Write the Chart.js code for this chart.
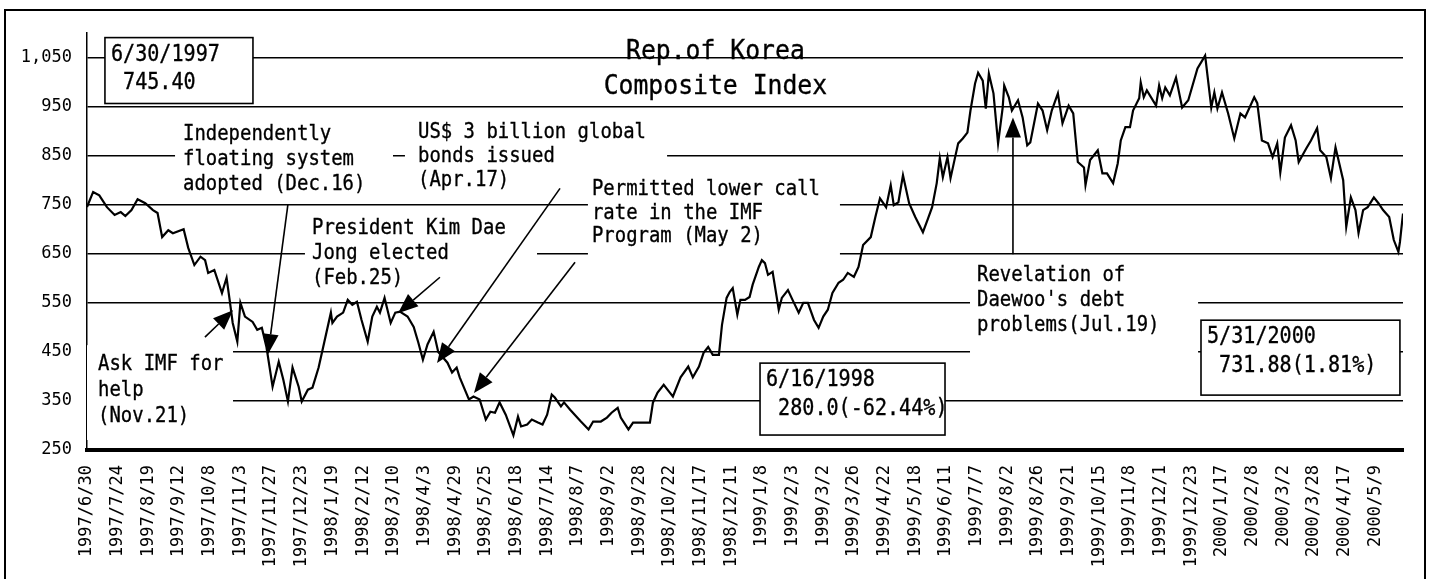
<!DOCTYPE html>
<html><head><meta charset="utf-8">
<script src="https://cdn.jsdelivr.net/npm/chart.js@4"></script>
<style>html,body{margin:0;padding:0;background:#fff;}</style>
</head><body>
<canvas id="c" width="1431" height="579"></canvas>
<script>
// ---- data ----
const tickLabels = ['1997/6/30','1997/7/24','1997/8/19','1997/9/12','1997/10/8','1997/11/3','1997/11/27','1997/12/23',
 '1998/1/19','1998/2/12','1998/3/10','1998/4/3','1998/4/29','1998/5/25','1998/6/18','1998/7/14','1998/8/7','1998/9/2',
 '1998/9/28','1998/10/22','1998/11/17','1998/12/11','1999/1/8','1999/2/3','1999/3/2','1999/3/26','1999/4/22','1999/5/18',
 '1999/6/11','1999/7/7','1999/8/2','1999/8/26','1999/9/21','1999/10/15','1999/11/8','1999/12/1','1999/12/23','2000/1/17',
 '2000/2/8','2000/3/2','2000/3/28','2000/4/17','2000/5/9'];
const daysPerLabel = 20;            // labels are 20 trading days apart
const lastTradingDay = 858;         // 2000/5/31
const yTickValues = [250,350,450,550,650,750,850,950,1050];
const yTickLabels = ['250','350','450','550','650','750','850','950','1,050'];

const tradingDay = [0,4,8,13,18,22,25,29,33,38,43,46,49,53,56,63,66,70,74,77,79,83,88,91,93,95,98,100,103,108,111,114,117,121,125,128,131,134,138,140,144,147,151,154,159,160,163,167,170,173,176,179,183,186,189,191,194,198,201,204,209,213,216,219,222,226,229,235,238,241,243,249,252,256,260,263,266,269,273,278,281,283,287,290,294,297,300,303,305,309,311,315,322,327,330,335,339,342,346,348,353,356,363,367,369,372,376,380,382,387,392,395,399,402,405,408,412,414,417,419,421,424,426,429,432,434,438,440,442,444,447,451,453,457,460,464,467,470,474,477,480,483,486,490,493,496,500,503,506,511,514,517,521,524,526,529,532,536,540,545,548,551,554,556,558,561,563,566,568,571,574,576,579,581,584,586,588,591,594,597,598,601,603,607,610,613,615,620,623,626,629,633,636,640,643,646,650,651,654,659,662,665,669,672,674,677,680,682,686,687,689,691,697,699,701,703,706,710,714,718,724,729,733,735,737,740,744,748,752,755,761,763,766,770,773,776,778,781,785,788,790,795,798,802,804,808,811,814,819,821,824,827,829,832,835,839,842,845,849,852,855,856,858];
const kospi = [745.4,776,769,745,729,735,727,739,761,753,739,733,684,698,692,700,662,627,644,637,611,617,570,601,556,509,471,550,522,511,495,499,460,379,430,393,349,418,379,349,373,377,418,460,530,509,522,530,556,546,552,515,471,522,542,530,560,509,530,532,522,501,469,434,465,491,450,428,408,418,398,353,359,353,312,328,326,347,322,280,318,298,302,312,306,302,322,363,357,339,347,332,308,292,308,308,316,326,336,316,292,306,306,306,347,367,383,367,359,398,420,398,420,448,460,444,444,505,560,572,580,526,556,556,562,587,623,637,631,607,613,536,560,576,556,530,550,550,515,499,522,536,570,591,597,611,603,623,668,684,725,763,745,790,749,755,810,753,725,694,719,745,794,845,806,847,804,847,875,885,897,942,997,1019,1003,946,1017,977,875,948,993,969,942,963,928,871,877,956,942,902,942,977,916,952,936,837,826,790,841,861,814,814,794,834,881,908,908,942,967,999,969,983,952,993,967,989,973,1009,948,963,1028,1054,948,979,946,979,936,885,936,928,969,957,881,875,847,875,816,887,912,881,837,865,881,906,861,847,804,867,800,705,765,739,692,739,745,765,753,739,725,678,654,674,731.88];

// ---- annotations (data coordinates: x = trading day, y = index value) ----
const FONT = "'DejaVu Sans Mono', monospace";
const notes = [
  {lines:['6/30/1997',' 745.40'], x:15.6, y:1043.8, lh:28, size:23, adv:12.1, box:[11.7,1090.6,108.2,956.3], border:true},
  {lines:['6/16/1998',' 280.0(-62.44%)'], x:442.7, y:380.3, lh:29, size:23, adv:12.1, box:[438.8,427.1,559.4,280.5], border:true},
  {lines:['5/31/2000',' 731.88(1.81%)'], x:730.2, y:467.8, lh:29, size:23, adv:12.1, box:[726.3,514.6,856.0,361.9], border:true},
  {lines:['Independently','floating system','adopted (Dec.16)'], x:62.6, y:881, lh:25, size:22, adv:11.4, box:[57.4,931.9,199.5,767]},
  {lines:['US$ 3 billion global','bonds issued','(Apr.17)'], x:215.8, y:885, lh:24, size:22, adv:11.4, box:[207.3,931.9,378.2,767]},
  {lines:['President Kim Dae','Jong elected','(Feb.25)'], x:146.7, y:689.6, lh:25, size:22, adv:11.4, box:[142.1,730.4,293.4,571.6]},
  {lines:['Permitted lower call','rate in the IMF','Program (May 2)'], x:329.2, y:769, lh:23.5, size:22, adv:11.4, box:[326.6,815.8,490.9,632.7]},
  {lines:['Revelation of',"Daewoo's debt",'problems(Jul.19)'], x:580.3, y:594, lh:25, size:22, adv:11.4, box:[575.7,630.6,724.4,441.3]},
  {lines:['Ask IMF for','help','(Nov.21)'], x:7.2, y:412.8, lh:26, size:22, adv:11.4, box:[0,463.7,95.2,270.4]},
];
const titleLines = {lines:['Rep.of Korea','Composite Index'], x:409.7, y:1047.9, lh:35, size:26, adv:14.9};
const arrows = [
  {from:[76.9,480.0], to:[95.2,535.0]},
  {from:[131.0,750.7], to:[118.0,445.4]},
  {from:[230.1,602.1], to:[202.8,528.9]},
  {from:[308.4,783.3], to:[228.2,427.1]},
  {from:[318.2,632.7], to:[252.3,366.0]},
  {from:[603.7,648.9], to:[603.7,927.8]},
];

function drawMono(ctx, text, x, y, size, adv, center) {
  ctx.save();
  ctx.font = size + 'px ' + FONT;
  const w = ctx.measureText(text).width || 1;
  const target = adv * text.length;
  const x0 = center ? x - target / 2 : x;
  ctx.translate(x0, y);
  ctx.scale(target / w, 1);
  ctx.textAlign = 'left';
  ctx.textBaseline = 'alphabetic';
  ctx.fillStyle = '#000';
  ctx.strokeStyle = '#000';
  ctx.lineWidth = 0.35;
  ctx.fillText(text, 0, 0);
  ctx.strokeText(text, 0, 0);
  ctx.restore();
}

const notesPlugin = {
  id: 'notes',
  beforeDatasetsDraw(chart) {
    const {ctx, scales:{x, y}} = chart;
    ctx.save();
    notes.forEach(n => {
      const x1 = x.getPixelForValue(n.box[0]), y1 = y.getPixelForValue(n.box[1]);
      const x2 = x.getPixelForValue(n.box[2]), y2 = y.getPixelForValue(n.box[3]);
      ctx.fillStyle = '#fff';
      ctx.fillRect(x1, y1, x2 - x1, y2 - y1);
      if (n.border) { ctx.lineWidth = 1.6; ctx.strokeStyle = '#000'; ctx.strokeRect(x1, y1, x2 - x1, y2 - y1); }
      const tx = x.getPixelForValue(n.x), ty = y.getPixelForValue(n.y);
      n.lines.forEach((t, i) => drawMono(ctx, t, tx, ty + i * n.lh, n.size, n.adv, false));
    });
    const cx = x.getPixelForValue(titleLines.x), cy = y.getPixelForValue(titleLines.y);
    titleLines.lines.forEach((t, i) => drawMono(ctx, t, cx, cy + i * titleLines.lh, titleLines.size, titleLines.adv, true));
    ctx.restore();
  },
  afterDatasetsDraw(chart) {
    const {ctx, scales:{x, y}} = chart;
    ctx.save();
    ctx.strokeStyle = '#000'; ctx.fillStyle = '#000';
    arrows.forEach(a => {
      const x1 = x.getPixelForValue(a.from[0]), y1 = y.getPixelForValue(a.from[1]);
      const x2 = x.getPixelForValue(a.to[0]), y2 = y.getPixelForValue(a.to[1]);
      const ang = Math.atan2(y2 - y1, x2 - x1), L = 20, W = 8;
      const bx = x2 - L * Math.cos(ang), by = y2 - L * Math.sin(ang);
      ctx.lineWidth = 1.6;
      ctx.beginPath(); ctx.moveTo(x1, y1); ctx.lineTo(bx, by); ctx.stroke();
      ctx.beginPath(); ctx.moveTo(x2, y2);
      ctx.lineTo(bx - W * Math.sin(ang), by + W * Math.cos(ang));
      ctx.lineTo(bx + W * Math.sin(ang), by - W * Math.cos(ang));
      ctx.closePath(); ctx.fill();
    });
    ctx.restore();
  },
  afterDraw(chart) {
    const ctx = chart.ctx;
    ctx.save();
    ctx.lineWidth = 2; ctx.strokeStyle = '#000';
    ctx.strokeRect(5, 10, 1420, 600);
    ctx.restore();
  }
};

new Chart(document.getElementById('c'), {
  type: 'line',
  data: {
    datasets: [{
      data: tradingDay.map((d, i) => ({x: d, y: kospi[i]})),
      borderColor: '#000', borderWidth: 2.2, pointRadius: 0, tension: 0, fill: false
    }]
  },
  options: {
    responsive: false, animation: false,
    layout: {padding: {top: 33, right: 28, left: 0, bottom: 0}},
    plugins: {legend: {display: false}, tooltip: {enabled: false}},
    scales: {
      x: {
        type: 'linear', min: 0, max: lastTradingDay,
        afterBuildTicks: s => { s.ticks = tickLabels.map((_, i) => ({value: i * daysPerLabel})); },
        afterFit: s => { s.height = 129; },
        grid: {display: false, drawTicks: false},
        border: {display: true, color: '#000', width: 4},
        ticks: {autoSkip: false, maxRotation: 90, minRotation: 90, padding: 15, color: '#000',
          font: {family: FONT, size: 17},
          callback: (v, i) => tickLabels[i]}
      },
      y: {
        min: 250, max: 1100,
        afterBuildTicks: s => { s.ticks = yTickValues.map(v => ({value: v})); },
        afterFit: s => { s.width = 87; },
        grid: {drawTicks: false, lineWidth: 1.4,
          color: c => (c.tick && c.tick.value === 250) ? 'rgba(0,0,0,0)' : '#000'},
        border: {display: true, color: '#000', width: 1.5},
        ticks: {padding: 15, color: '#000', font: {family: FONT, size: 17},
          callback: v => yTickLabels[yTickValues.indexOf(v)]}
      }
    }
  },
  plugins: [notesPlugin]
});
</script>
</body></html>
